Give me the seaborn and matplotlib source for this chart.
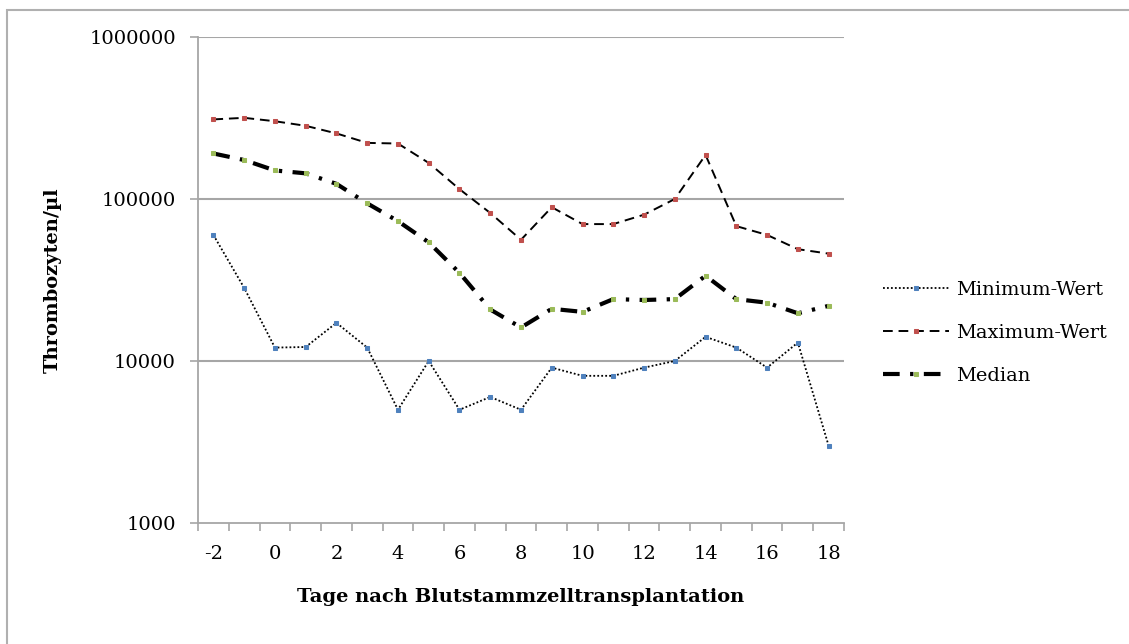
import matplotlib
matplotlib.use("Agg")
import matplotlib.pyplot as plt
import matplotlib.ticker as mticker
from matplotlib.patches import Rectangle
import seaborn as sns
import pandas as pd

days = list(range(-2, 19))
min_vals = [60000, 28300, 12100, 12200, 17200, 12100, 5000, 10000, 5000, 6000, 5000,
            9100, 8100, 8100, 9100, 10000, 14100, 12100, 9100, 13000, 3000]
max_vals = [310000, 317000, 302000, 283000, 254000, 222000, 220000, 167000, 115000, 82000, 56000,
            89000, 70000, 70000, 80000, 100000, 187000, 68000, 60000, 49000, 46000]
median_vals = [191000, 174000, 150000, 144000, 124000, 94000, 73000, 54000, 35000, 20800, 16100,
               21000, 20100, 24100, 23800, 24100, 33600, 24100, 22900, 19700, 21900]
series_names = ["Minimum-Wert", "Maximum-Wert", "Median"]
y_ticks = [1000, 10000, 100000, 1000000]
x_tick_labels = [-2, 0, 2, 4, 6, 8, 10, 12, 14, 16, 18]
x_label = "Tage nach Blutstammzelltransplantation"
y_label = "Thrombozyten/µl"

df = pd.DataFrame({"Tag": days, series_names[0]: min_vals,
                   series_names[1]: max_vals, series_names[2]: median_vals})

sns.set_style("white")
plt.rcParams["font.family"] = ["DejaVu Serif"]
plt.rcParams["text.color"] = "black"
plt.rcParams["axes.labelcolor"] = "black"
plt.rcParams["xtick.labelcolor"] = "black"
plt.rcParams["ytick.labelcolor"] = "black"

fig = plt.figure(figsize=(11.29, 6.44), dpi=100)
ax = fig.add_axes([198 / 1129, 1 - 523 / 644, (844 - 198) / 1129, (523 - 37) / 644])

styles = [
    dict(linestyle=(0, (1, 1.2)), linewidth=1.3, marker="s", markersize=3.2,
         markerfacecolor="#4F81BD", markeredgecolor="#4F81BD"),
    dict(linestyle=(0, (5, 3)), linewidth=1.4, marker="s", markersize=3.2,
         markerfacecolor="#C0504D", markeredgecolor="#C0504D"),
    dict(linestyle=(0, (4, 2.5, 0.8, 2.5)), linewidth=3.0, marker="s", markersize=3.4,
         markerfacecolor="#9BBB59", markeredgecolor="#9BBB59"),
]
for name, st in zip(series_names, styles):
    sns.lineplot(data=df, x="Tag", y=name, ax=ax, color="black", label=name, **st)

ax.set_yscale("log")
ax.set_ylim(1000, 1000000)
ax.set_xlim(-2.5, 18.5)
ax.yaxis.set_major_locator(mticker.FixedLocator(y_ticks))
ax.yaxis.set_major_formatter(mticker.FuncFormatter(lambda v, p: f"{int(round(v))}"))
ax.yaxis.set_minor_locator(mticker.NullLocator())

ax.xaxis.set_major_locator(mticker.FixedLocator(x_tick_labels))
ax.xaxis.set_major_formatter(mticker.FuncFormatter(lambda v, p: f"{int(v)}"))
ax.xaxis.set_minor_locator(mticker.FixedLocator([d + 0.5 for d in [-3] + days]))

grid_col = "#A6A6A6"
for yt in y_ticks[1:]:
    ax.axhline(yt, color=grid_col, linewidth=1.5, zorder=0)

for s in ["top", "right"]:
    ax.spines[s].set_visible(False)
for s in ["left", "bottom"]:
    ax.spines[s].set_color(grid_col)
    ax.spines[s].set_linewidth(1.3)

ax.tick_params(axis="y", which="major", direction="out", length=6, width=1.2,
               color=grid_col, labelsize=14, pad=10, left=True, labelcolor="black")
ax.tick_params(axis="x", which="major", length=0, labelsize=14, pad=16, bottom=True,
               labelcolor="black")
ax.tick_params(axis="x", which="minor", direction="out", length=6, width=1.2,
               color=grid_col, bottom=True)

ax.set_xlabel(x_label, fontsize=14, fontweight="bold", labelpad=18, color="black")
ax.set_ylabel(y_label, fontsize=14, fontweight="bold", labelpad=20, color="black")

leg = ax.legend(loc="center left", bbox_to_anchor=(865 / 1129, 1 - 333 / 644),
                bbox_transform=fig.transFigure, frameon=False, fontsize=14,
                handlelength=3.4, handletextpad=0.4, labelspacing=1.3, numpoints=1)
for t in leg.get_texts():
    t.set_color("black")

fig.patches.append(Rectangle((7 / 1129, -0.1), 1.2, 1 - 10 / 644 + 0.1,
                             transform=fig.transFigure, fill=False,
                             edgecolor="#B0B0B0", linewidth=1.5))

fig.savefig("out.png", dpi=100, facecolor="white")
